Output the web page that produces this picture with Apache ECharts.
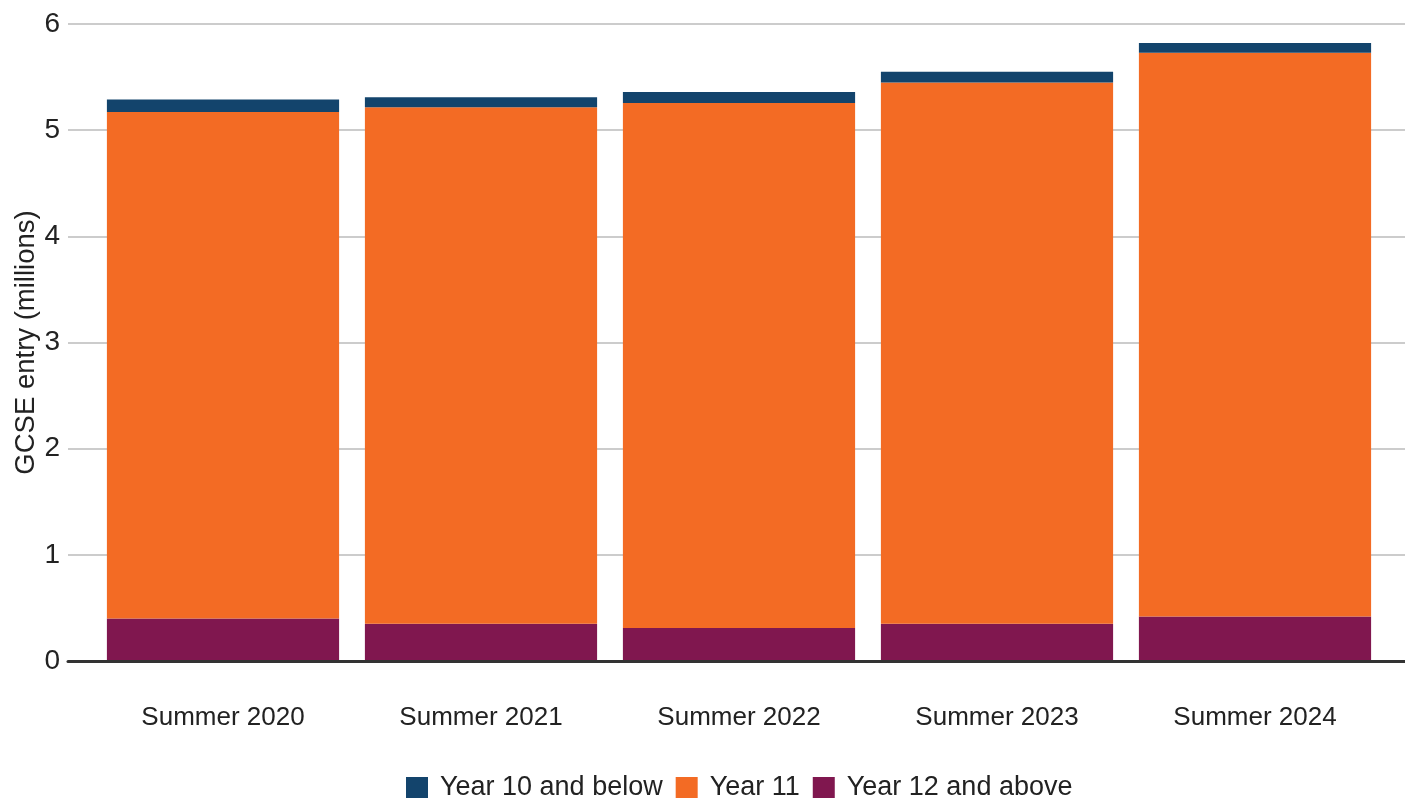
<!DOCTYPE html>
<html>
<head>
<meta charset="utf-8">
<script src="https://cdn.jsdelivr.net/npm/echarts@6/dist/echarts.min.js"></script>
<style>
html,body{margin:0;padding:0;background:#fff;}
#chart{width:1405px;height:798px;}
</style>
</head>
<body>
<div id="chart"></div>
<script>
const categories = ['Summer 2020', 'Summer 2021', 'Summer 2022', 'Summer 2023', 'Summer 2024'];
const year10AndBelow = [0.12, 0.095, 0.105, 0.10, 0.09];
const year11 = [4.77, 4.865, 4.945, 5.10, 5.31];
const year12AndAbove = [0.40, 0.35, 0.31, 0.35, 0.42];
const yTicks = [0, 1, 2, 3, 4, 5, 6];
const seriesNames = ['Year 10 and below', 'Year 11', 'Year 12 and above'];

const FONT = 'Liberation Sans, Arial, Helvetica, sans-serif';
const TXT = '#222';

const chart = echarts.init(document.getElementById('chart'), null, {renderer: 'canvas'});
const option = {
  animation: false,
  backgroundColor: '#fff',
  textStyle: {fontFamily: FONT},
  grid: [
    {left: 68, right: 0, top: 24, bottom: 137, containLabel: false, outerBoundsMode: 'none'},
    {left: 94, right: 21, top: 24, bottom: 137, containLabel: false, outerBoundsMode: 'none'}
  ],
  legend: {
    data: seriesNames,
    left: 406,
    top: 774,
    padding: 0,
    itemWidth: 22,
    itemHeight: 21,
    itemGap: 13,
    icon: 'rect',
    textStyle: {fontSize: 27, color: TXT, fontFamily: FONT, padding: [0, 0, 0, 7]}
  },
  xAxis: [
    {
      gridIndex: 0, type: 'category', data: categories,
      axisLine: {show: true, onZero: false, lineStyle: {color: '#333', width: 3}},
      axisTick: {show: false}, axisLabel: {show: false}, splitLine: {show: false}, z: 10
    },
    {
      gridIndex: 1, type: 'category', data: categories,
      axisLine: {show: false}, axisTick: {show: false},
      axisLabel: {show: true, fontSize: 26, color: TXT, margin: 44, fontFamily: FONT}
    }
  ],
  yAxis: [
    {
      gridIndex: 0, type: 'value', min: yTicks[0], max: yTicks[yTicks.length - 1], interval: 1,
      name: 'GCSE entry (millions)', nameLocation: 'middle', nameGap: 28, nameRotate: 90,
      nameMoveOverlap: false,
      nameTextStyle: {fontSize: 27.5, color: TXT, fontFamily: FONT},
      axisLine: {show: false}, axisTick: {show: false},
      axisLabel: {fontSize: 28, color: TXT, margin: 8, fontFamily: FONT},
      splitLine: {show: true, lineStyle: {color: '#cccccc', width: 2}}
    },
    {
      gridIndex: 1, type: 'value', min: yTicks[0], max: yTicks[yTicks.length - 1], interval: 1,
      show: false, splitLine: {show: false}
    }
  ],
  series: [
    {
      name: 'Year 12 and above', type: 'bar', stack: 'total', xAxisIndex: 1, yAxisIndex: 1,
      data: year12AndAbove, barCategoryGap: '10%',
      itemStyle: {color: '#80174F'}
    },
    {
      name: 'Year 11', type: 'bar', stack: 'total', xAxisIndex: 1, yAxisIndex: 1,
      data: year11, barCategoryGap: '10%',
      itemStyle: {color: '#F36B24'}
    },
    {
      name: 'Year 10 and below', type: 'bar', stack: 'total', xAxisIndex: 1, yAxisIndex: 1,
      data: year10AndBelow, barCategoryGap: '10%',
      itemStyle: {color: '#13446C'}
    }
  ]
};
chart.setOption(option);
</script>
</body>
</html>
